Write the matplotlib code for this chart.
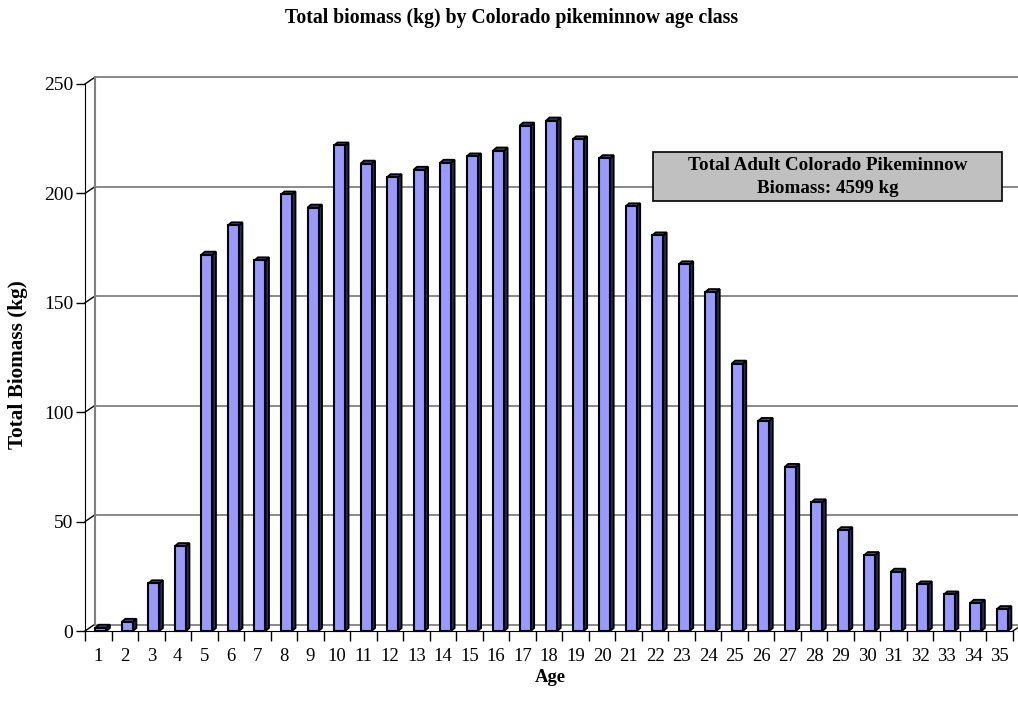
import numpy as np
import matplotlib
matplotlib.use("Agg")
import matplotlib.pyplot as plt
from matplotlib.patches import Polygon, Rectangle

plt.rcParams['font.family'] = ['Liberation Serif', 'DejaVu Serif']

# data
ages = list(range(1, 36))
biomass = [1.5, 4.2, 21.8, 38.8, 172.0, 185.4, 169.4, 199.5, 193.5, 221.9,
           213.6, 207.4, 210.8, 214.0, 216.9, 219.6, 231.0, 233.3, 224.7, 216.1,
           194.1, 180.8, 167.6, 154.9, 122.2, 96.0, 75.0, 58.8, 46.1, 34.7,
           27.1, 21.3, 16.7, 12.9, 10.0]
yticks = [0, 50, 100, 150, 200, 250]
title = 'Total biomass (kg) by Colorado pikeminnow age class'
note = 'Total Adult Colorado Pikeminnow\nBiomass: 4599 kg'

W, H = 1018, 702
fig = plt.figure(figsize=(W / 100, H / 100), dpi=100)
# front plane of the pseudo-3D chart, in pixels
x0, x1 = 85, 1013
y0, y1 = 631, 84
ax = fig.add_axes([x0 / W, 1 - y0 / H, (x1 - x0) / W, (y0 - y1) / H])
ax.set_xlim(0.5, 35.5)
ax.set_ylim(0, 250)

px_x = 35.0 / (x1 - x0)   # data units per pixel
px_y = 250.0 / (y0 - y1)
# back wall offset
dxd, dyd = 9.5 * px_x, 6.5 * px_y
xr = 0.5 + (W + 5 - x0) * px_x

# back wall: grid lines, top rim, left edge, floor
for v in yticks:
    ax.plot([0.5 + dxd, xr], [v + dyd, v + dyd], color='#808080', lw=1.3,
            clip_on=False, zorder=1)
    ax.plot([0.5, 0.5 + dxd], [v, v + dyd], color='black', lw=1.0,
            clip_on=False, zorder=1)
ax.plot([0.5 + dxd, 0.5 + dxd], [dyd, 250 + dyd], color='#808080', lw=1.5,
        clip_on=False, zorder=1)
ax.plot([35.5, 35.5 + dxd], [0, dyd], color='black', lw=1.0,
        clip_on=False, zorder=1)

# bars with top and side faces
w = 0.415
shift = 0.1
sx, sy = 3.5 * px_x, 3.0 * px_y
for a, v in zip(ages, biomass):
    left = a - w / 2 + shift
    right = left + w
    ax.add_patch(Polygon([(right, 0), (right + sx, sy), (right + sx, v + sy), (right, v)],
                         closed=True, fc='#2b2b5c', ec='black', lw=1.3, zorder=3,
                         clip_on=False))
    ax.add_patch(Polygon([(left, v), (left + sx, v + sy), (right + sx, v + sy), (right, v)],
                         closed=True, fc='#45458a', ec='black', lw=1.3, zorder=3,
                         clip_on=False))
    ax.add_patch(Rectangle((left, 0), w, v, fc='#9999ff', ec='black', lw=1.5,
                           zorder=4, clip_on=False))

for s in ['top', 'right']:
    ax.spines[s].set_visible(False)
ax.spines['left'].set_color('black')
ax.spines['bottom'].set_color('black')
ax.spines['left'].set_zorder(5)

ax.set_yticks(yticks)
ax.set_yticklabels([str(v) for v in yticks])
ax.tick_params(axis='y', length=6.5, width=1, pad=2, labelsize=14)
ax.set_xticks(ages)
ax.set_xticklabels([str(a) for a in ages])
ax.set_xticks(np.arange(0.5, 36, 1), minor=True)
ax.tick_params(axis='x', which='major', length=0, pad=12.5, labelsize=13.5)
ax.tick_params(axis='x', which='minor', length=7.5, width=1)

fig.text(512 / W, 1 - 18 / H, title, ha='center', va='center',
         fontsize=14.2, fontweight='bold')
fig.text(18 / W, 1 - 365 / H, 'Total Biomass (kg)', rotation=90,
         ha='center', va='center', fontsize=15.3, fontweight='bold')
fig.text(550 / W, 1 - 677 / H, 'Age', ha='center', va='center',
         fontsize=13.4, fontweight='bold')

# annotation box
box = Rectangle((653 / W, 1 - 201 / H), 349 / W, 49 / H, transform=fig.transFigure,
                fc='#c0c0c0', ec='black', lw=1.2, zorder=10)
fig.patches.append(box)
fig.text(827.5 / W, 1 - 177 / H, note, ha='center', va='center',
         fontsize=13.7, fontweight='bold', linespacing=1.45, zorder=11)

fig.savefig('out.png', dpi=100)
